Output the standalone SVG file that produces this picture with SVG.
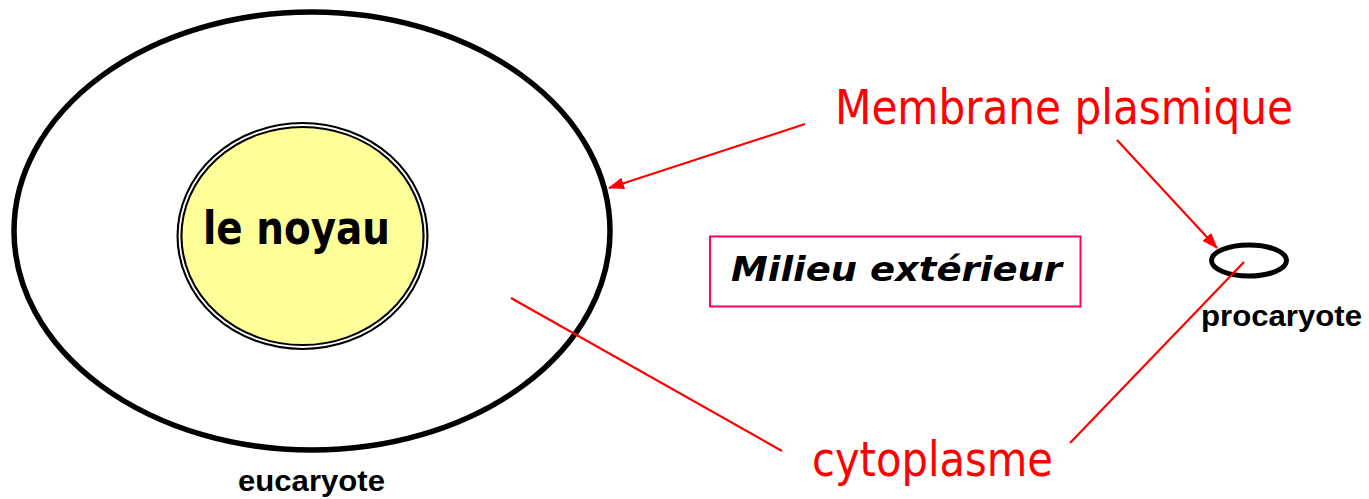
<svg xmlns="http://www.w3.org/2000/svg" width="1369" height="499" viewBox="0 0 1369 499">
<style>
.comic{font-family:'Comic Sans MS','DejaVu Sans',sans-serif;}
.red{fill:#FF0000;}
.lbl{font-family:'Liberation Sans',Arial,sans-serif;font-weight:bold;fill:#000;}
.conn{stroke:#FF0000;stroke-width:2.2;fill:none;}
</style>
<defs>
<marker id="ah" viewBox="0 0 16 12" refX="15" refY="6" markerWidth="16" markerHeight="12" markerUnits="userSpaceOnUse" orient="auto">
<path d="M0,0 L16,6 L0,12 Z" fill="#FF0000"/>
</marker>
</defs>
<rect width="1369" height="499" fill="#fff"/>
<g id="eucaryote">
<ellipse cx="312" cy="231" rx="298" ry="219" fill="none" stroke="#000" stroke-width="5.5"/>
<text class="lbl" x="238" y="491" font-size="29" textLength="147" lengthAdjust="spacingAndGlyphs">eucaryote</text>
</g>
<g id="noyau">
<ellipse cx="302.5" cy="236" rx="123" ry="111" fill="#FFFF99" stroke="#000" stroke-width="6"/>
<ellipse cx="302.5" cy="236" rx="123" ry="111" fill="none" stroke="#fff" stroke-width="1.8"/>
<text class="comic" x="203" y="244" font-size="46" font-weight="bold" fill="#000" textLength="187" lengthAdjust="spacingAndGlyphs">le noyau</text>
</g>
<g id="milieu">
<rect x="710" y="236.5" width="370.5" height="70" fill="#fff" stroke="#FF0066" stroke-width="2"/>
<text class="comic" x="731" y="281" font-size="34" font-weight="bold" font-style="italic" fill="#000" textLength="331" lengthAdjust="spacingAndGlyphs">Milieu extérieur</text>
</g>
<g id="procaryote">
<ellipse cx="1249" cy="260.5" rx="37.5" ry="15.5" fill="none" stroke="#000" stroke-width="5"/>
<text class="lbl" x="1201" y="326" font-size="29" textLength="161" lengthAdjust="spacingAndGlyphs">procaryote</text>
</g>
<g id="membrane">
<text class="comic red" x="835" y="124" font-size="48" textLength="458" lengthAdjust="spacingAndGlyphs">Membrane plasmique</text>
</g>
<g id="cytoplasme">
<text class="comic red" x="812" y="476" font-size="48" textLength="241" lengthAdjust="spacingAndGlyphs">cytoplasme</text>
</g>
<g id="connectors">
<line class="conn" x1="805" y1="124" x2="609" y2="188" marker-end="url(#ah)"/>
<line class="conn" x1="1117" y1="140" x2="1217" y2="248" marker-end="url(#ah)"/>
<line class="conn" x1="511" y1="298" x2="782" y2="451"/>
<line class="conn" x1="1244" y1="262" x2="1070" y2="443"/>
</g>
</svg>
